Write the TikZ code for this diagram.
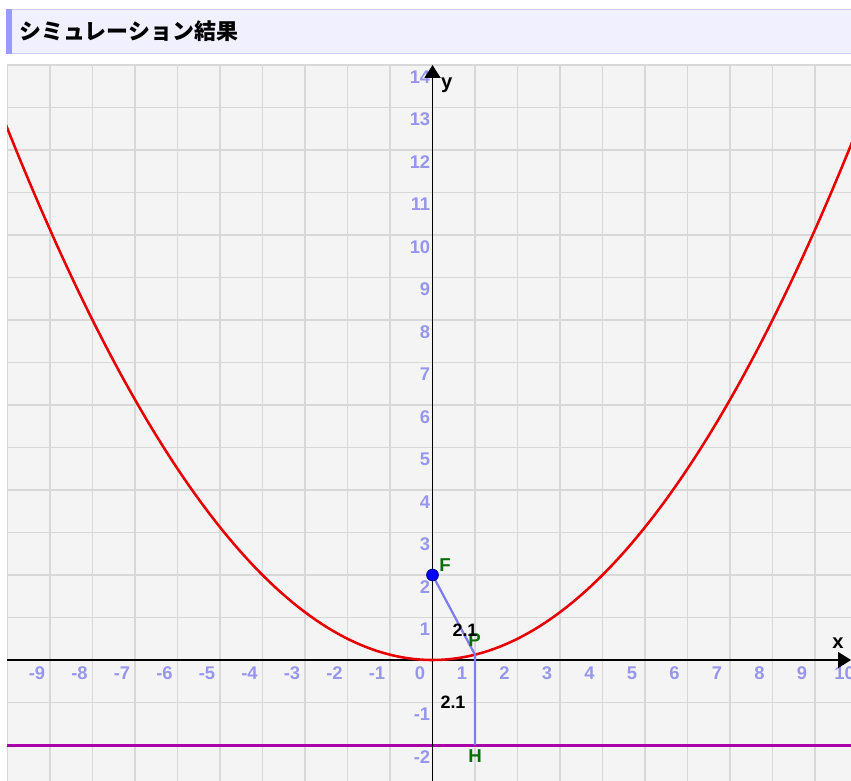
\documentclass[tikz,border=0pt]{standalone}
\usepackage{fontspec}
\setmainfont{Liberation Sans}
\newfontfamily\jpfont{Noto Sans CJK JP}
\usetikzlibrary{arrows.meta}
\definecolor{hdrfill}{RGB}{240,240,255}
\definecolor{hdrline}{RGB}{204,204,255}
\definecolor{hdrbar}{RGB}{153,153,255}
\definecolor{gbg}{RGB}{244,244,244}
\definecolor{gridc}{RGB}{216,216,216}
\definecolor{tickc}{RGB}{150,150,236}
\definecolor{curvec}{RGB}{230,0,0}
\definecolor{dirc}{RGB}{170,0,170}
\definecolor{segc}{RGB}{125,125,240}
\definecolor{ptc}{RGB}{0,0,255}
\definecolor{lblg}{RGB}{10,110,10}
\tikzset{
  gridline/.style={draw=gridc, line width=1.2pt},
  ticklbl/.style={text=tickc, inner sep=0pt, font=\fontsize{12.3}{14}\selectfont\bfseries},
  axisline/.style={draw=black, line width=1.3pt, -{Triangle[length=8.7pt,width=10.7pt]}},
  axislbl/.style={text=black, inner sep=0pt, font=\fontsize{13.5}{15}\selectfont\bfseries},
  curve/.style={draw=curvec, line width=1.7pt},
  directrix/.style={draw=dirc, line width=2pt},
  seg/.style={draw=segc, line width=1.5pt},
  ptlbl/.style={text=lblg, inner sep=0pt, font=\fontsize{12.5}{14}\selectfont\bfseries},
  vallbl/.style={text=black, inner sep=0pt, font=\fontsize{12}{14}\selectfont\bfseries},
}
\begin{document}
\begin{tikzpicture}[x=0.6695pt,y=-0.6695pt]
\useasboundingbox (0,0) rectangle (851,781);
% header
\fill[hdrfill] (6,9) rectangle (851,54);
\draw[hdrline, line width=0.7pt] (6,9.3) -- (851,9.3);
\draw[hdrline, line width=0.7pt] (6,53.7) -- (851,53.7);
\fill[hdrbar] (6,9) rectangle (12,54);
\node[anchor=west, inner sep=0pt, font=\jpfont\fontsize{14.7}{16}\selectfont\bfseries] (title) at (19,31.5) {シミュレーション結果};
% graph area
\fill[gbg] (7,64) rectangle (851,781);
\begin{scope}
\clip (7,64) rectangle (851,781);
\foreach \k in {-10,...,10} \draw[gridline] ({432.5+42.5*\k},64) -- ({432.5+42.5*\k},781);
\foreach \k in {-3,...,14} \draw[gridline] (7,{660-42.5*\k}) -- (851,{660-42.5*\k});
% tick labels
\foreach \k in {-10,...,-1,1,2,...,10} \node[ticklbl] (xt\k) at ({432.5+42.5*\k-13},673.5) {\k};
\foreach \k in {-2,-1,1,2,...,14} \node[ticklbl, anchor=east] (yt\k) at (430.5,{660-42.5*\k+12}) {\k};
\node[ticklbl] (zero) at (420,673.5) {0};
% directrix
\coordinate (dl) at (7,745);
\coordinate (dr) at (851,745);
\draw[directrix] (dl) -- (dr);
% axes
\coordinate (xs) at (7,660);
\coordinate (xe) at (851,660);
\coordinate (ys) at (432.5,781);
\coordinate (ye) at (432.5,65);
\draw[axisline] (xs) -- (xe);
\draw[axisline] (ys) -- (ye);
% parabola
\draw[curve] plot[domain=-10.2:9.95, samples=150, variable=\t] ({432.5+42.5*\t},{660-42.5*\t*\t/8});
% points and segments
\coordinate (F) at (432.5,575);
\coordinate (P) at (475,654.7);
\coordinate (H) at (475,745);
\draw[seg] (F) -- (P) -- (H);
\fill[ptc] (F) circle (4pt);
\draw[black!60!blue, line width=0.4pt] (F) circle (4pt);
\end{scope}
\node[axislbl] (ylbl) at (446.7,85) {y};
\node[axislbl] (xlbl) at (838,643) {x};
\node[ptlbl] (Flbl) at (445,565) {F};
\node[ptlbl] (Plbl) at (474.5,640) {P};
\node[ptlbl] (Hlbl) at (475,756.5) {H};
\node[vallbl] (d1) at (465,630) {2.1};
\node[vallbl] (d2) at (453,702) {2.1};
\end{tikzpicture}
\end{document}
